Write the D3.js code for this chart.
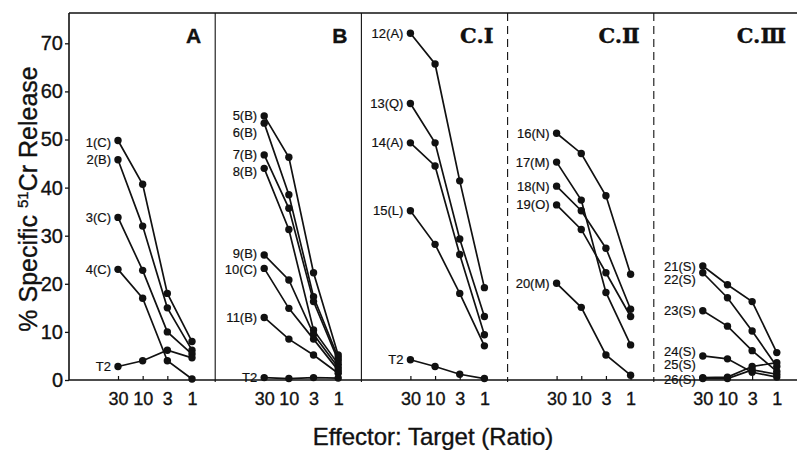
<!DOCTYPE html>
<html>
<head>
<meta charset="utf-8">
<script src="https://cdn.jsdelivr.net/npm/d3@7"></script>
<style>
	body { margin: 0; background: #fff; }
	text { font-family: "Liberation Sans", Arial, sans-serif; fill: #111; stroke: #111; stroke-width: 0.35px; }
</style>
</head>
<body>
<div id="chart"></div>
<script>
var ratios = ["30", "10", "3", "1"];
var panels = ["A", "B", "C.Ⅰ", "C.Ⅱ", "C.Ⅲ"];
var yTicks = [0, 10, 20, 30, 40, 50, 60, 70];

var seriesA = [
	{name: "1(C)", values: [49.8, 40.7, 18.0, 8.0]},
	{name: "2(B)", values: [45.8, 32.0, 15.0, 6.2]},
	{name: "3(C)", values: [33.8, 22.8, 10.0, 5.4]},
	{name: "4(C)", values: [23.0, 17.0, 4.0, 0.2]},
	{name: "T2", values: [2.8, 4.0, 6.2, 4.6]}
];
var seriesB = [
	{name: "5(B)", values: [54.9, 46.3, 22.3, 5.2]},
	{name: "6(B)", values: [53.4, 38.5, 17.3, 4.6]},
	{name: "7(B)", values: [46.8, 35.7, 16.3, 4.0]},
	{name: "8(B)", values: [44.0, 31.3, 10.4, 3.3]},
	{name: "9(B)", values: [26.0, 20.8, 9.5, 2.6]},
	{name: "10(C)", values: [23.2, 14.9, 8.5, 2.0]},
	{name: "11(B)", values: [13.0, 8.5, 5.2, 1.4]},
	{name: "T2", values: [0.5, 0.3, 0.5, 0.4]}
];
var seriesC1 = [
	{name: "12(A)", values: [72.1, 65.7, 41.4, 19.2]},
	{name: "13(Q)", values: [57.5, 49.3, 29.3, 13.2]},
	{name: "14(A)", values: [49.3, 44.5, 26.1, 9.4]},
	{name: "15(L)", values: [35.2, 28.2, 18.0, 7.1]},
	{name: "T2", values: [4.2, 2.8, 1.2, 0.3]}
];
var seriesC2 = [
	{name: "16(N)", values: [51.3, 47.1, 38.3, 22.0]},
	{name: "17(M)", values: [45.3, 37.4, 18.2, 7.3]},
	{name: "18(N)", values: [40.3, 35.2, 27.4, 14.7]},
	{name: "19(O)", values: [36.4, 31.3, 22.3, 13.2]},
	{name: "20(M)", values: [20.1, 15.1, 5.2, 1.0]}
];
var seriesC3 = [
	{name: "21(S)", values: [23.7, 19.8, 16.3, 5.7]},
	{name: "22(S)", values: [22.3, 17.1, 10.2, 2.8]},
	{name: "23(S)", values: [14.4, 11.2, 6.1, 1.8]},
	{name: "24(S)", values: [5.0, 4.4, 1.6, 0.6]},
	{name: "25(S)", values: [0.5, 0.6, 2.8, 3.6]},
	{name: "26(S)", values: [0.3, 0.3, 2.1, 1.2]}
];
var panelSeries = [seriesA, seriesB, seriesC1, seriesC2, seriesC3];

// labels that were moved off their point in the original to avoid overlap
var labelNudge = {"1(C)": 2, "6(B)": 9, "8(B)": 3, "9(B)": -1, "10(C)": 1,
	"22(S)": 7, "24(S)": -5, "25(S)": -13, "26(S)": 1};

(function() {
	var width = 797, height = 450,
		left = 69, top = 13, bottom = 380;

	var svg = d3.select("#chart")
		.append("svg")
		.attr("width", width)
		.attr("height", height);

	var y = d3.scaleLinear().domain([0, 70]).range([bottom, 43.3]);
	var panelX = d3.scaleBand().domain(panels).range([left, 800]);
	var x = d3.scalePoint().domain(ratios).range([49, 123]);

	// frame
	svg.append("line")
		.attr("x1", left).attr("x2", width)
		.attr("y1", top).attr("y2", top)
		.attr("stroke", "#111").attr("stroke-width", 1.3);
	svg.append("line")
		.attr("x1", left).attr("x2", width)
		.attr("y1", bottom).attr("y2", bottom)
		.attr("stroke", "#111").attr("stroke-width", 1.6);
	svg.append("line")
		.attr("x1", left).attr("x2", left)
		.attr("y1", top).attr("y2", bottom)
		.attr("stroke", "#111").attr("stroke-width", 1.6);

	panels.slice(1).forEach(function(p, i) {
		svg.append("line")
			.attr("x1", panelX(p)).attr("x2", panelX(p))
			.attr("y1", top).attr("y2", bottom + 2)
			.attr("stroke", "#111")
			.attr("stroke-width", 1.1)
			.attr("stroke-dasharray", i >= 2 ? "8,5" : null);
	});

	var yAxis = d3.axisLeft(y)
		.tickValues(yTicks)
		.tickSize(4)
		.tickPadding(2);

	svg.append("g")
		.attr("class", "y axis")
		.attr("transform", "translate(" + left + ",0)")
		.call(yAxis)
		.call(function(g) { g.select(".domain").remove(); })
		.call(function(g) {
			g.selectAll("line").attr("stroke", "#111").attr("stroke-width", 1.3);
			g.selectAll("text").style("font-size", "20px").attr("fill", "#111");
		});

	svg.append("text")
		.attr("transform", "translate(37,199) rotate(-90)")
		.style("text-anchor", "middle")
		.style("font-size", "25px")
		.html('% Specific <tspan dy="-9" style="font-size:15px">51</tspan><tspan dy="9">Cr Release</tspan>');

	svg.append("text")
		.attr("x", (left + width) / 2)
		.attr("y", 445)
		.style("text-anchor", "middle")
		.style("font-size", "24px")
		.text("Effector: Target (Ratio)");

	var line = d3.line()
		.x(function(d, i) { return x(ratios[i]); })
		.y(function(d) { return y(d); });

	panels.forEach(function(p, pi) {
		var g = svg.append("g")
			.attr("transform", "translate(" + panelX(p) + ",0)");

		var xAxis = d3.axisBottom(x)
			.tickSizeInner(-4)
			.tickSizeOuter(0)
			.tickPadding(12);

		g.append("g")
			.attr("class", "x axis")
			.attr("transform", "translate(0," + bottom + ")")
			.call(xAxis)
			.call(function(a) { a.select(".domain").remove(); })
			.call(function(a) {
				a.selectAll("line").attr("stroke", "#111").attr("stroke-width", 1.2);
				a.selectAll("text")
					.style("font-family", '"Liberation Sans Narrow", "Arial Narrow", sans-serif')
					.style("font-size", "18px")
					.attr("fill", "#111");
			});

		var isSerif = pi >= 2;
		g.append("text")
			.attr("x", panelX.bandwidth() - 14)
			.attr("y", 43)
			.style("text-anchor", "end")
			.style("font-weight", "bold")
			.style("font-family", isSerif ? '"DejaVu Serif", "Liberation Serif", serif' : null)
			.style("font-size", "21px")
			.text(p);

		var s = g.selectAll(".series")
			.data(panelSeries[pi])
			.enter()
			.append("g")
			.attr("class", "series");

		s.append("path")
			.attr("d", function(d) { return line(d.values); })
			.attr("fill", "none")
			.attr("stroke", "#111")
			.attr("stroke-width", 1.7);

		s.selectAll("circle")
			.data(function(d) { return d.values; })
			.enter()
			.append("circle")
			.attr("cx", function(d, i) { return x(ratios[i]); })
			.attr("cy", function(d) { return y(d); })
			.attr("r", 3.7)
			.attr("fill", "#111");

		s.append("text")
			.attr("x", x(ratios[0]) - 7)
			.attr("y", function(d) { return y(d.values[0]) + (labelNudge[d.name] || 0); })
			.attr("dy", "0.35em")
			.style("text-anchor", "end")
			.style("font-size", "13px")
			.style("stroke-width", "0.2px")
			.text(function(d) { return d.name; });
	});
})();
</script>
</body>
</html>
